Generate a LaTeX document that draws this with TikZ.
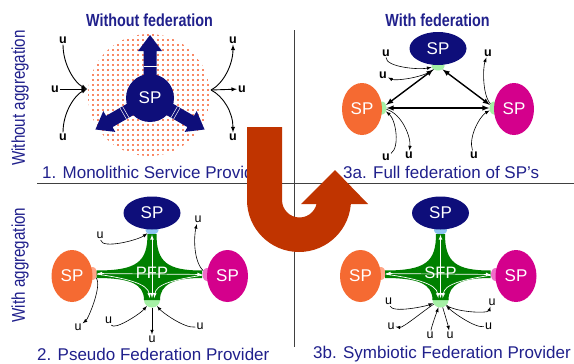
\documentclass[tikz,border=0pt]{standalone}
\usepackage{fontspec}
\setmainfont{Liberation Sans}
\newfontfamily\etroite[FakeStretch=0.82]{Liberation Sans}
\usetikzlibrary{shapes.geometric, calc}

\definecolor{marine}{RGB}{14,14,122}
\definecolor{bleutexte}{RGB}{32,32,140}
\definecolor{orangesp}{RGB}{245,106,50}
\definecolor{magentasp}{RGB}{212,0,140}
\definecolor{vertetoile}{RGB}{0,128,0}
\definecolor{vertclair}{RGB}{165,240,165}
\definecolor{bleuclair}{RGB}{140,195,240}
\definecolor{saumon}{RGB}{255,165,135}
\definecolor{rose}{RGB}{240,110,200}
\definecolor{rouille}{RGB}{192,52,0}
\definecolor{pointille}{RGB}{250,135,100}

\begin{document}
\begin{tikzpicture}[x=1pt, y=-1pt]
	\tikzset{sp/.style={ellipse, inner sep=0pt, text=white, font=\fontsize{17}{17}\selectfont},
		sp haut/.style={sp, fill=marine, minimum width=57pt, minimum height=33pt},
		sp gauche/.style={sp, fill=orangesp, minimum width=41pt, minimum height=52pt},
		sp droite/.style={sp, fill=magentasp, minimum width=41pt, minimum height=52pt},
		patin h/.style={ellipse, inner sep=0pt, minimum width=13pt, minimum height=9pt},
		patin v/.style={ellipse, inner sep=0pt, minimum width=9pt, minimum height=13pt},
		patin b/.style={ellipse, inner sep=0pt, minimum width=16pt, minimum height=15pt},
		util/.style={inner sep=1pt, font=\fontsize{12.5}{12.5}\selectfont},
		util gras/.style={inner sep=1pt, font=\fontsize{12.5}{12.5}\selectfont\bfseries},
		fleche/.style={>=latex, ->, line width=0.6pt},
		fleche double/.style={>=latex, <->, line width=1.4pt},
		fleche blanche/.style={>=latex, white, line width=0.7pt},
		titre/.style={text=bleutexte, font=\etroite\bfseries\fontsize{17.5}{18}\selectfont},
		cote/.style={text=bleutexte, rotate=90, font=\etroite\fontsize{18.5}{19}\selectfont},
		legende/.style={text=bleutexte, anchor=west, inner sep=0pt, font=\fontsize{17}{18}\selectfont},
		trait/.style={draw=black!75, line width=0.8pt},
		etoile/.pic={
			% patins, sous l'etoile et les SP
			\node[patin h, fill=bleuclair] (-ph) at (0,-44) {};
			\node[patin v, fill=saumon] (-pg) at (-59.5,-0.5) {};
			\node[patin v, fill=rose] (-pd) at (55,0.5) {};
			\node[patin b, fill=vertclair] (-pb) at (0,26) {};
			\fill[vertetoile] (-4.5,-40) .. controls (-4.5,-12) and (-15,-3.5) .. (-55.5,-3.5) -- (-55.5,4)
				.. controls (-22,4) and (-8,10) .. (-8,26) -- (8,26)
				.. controls (8,10) and (22,4) .. (50,4) -- (50,-3.5)
				.. controls (15,-3.5) and (4.5,-12) .. (4.5,-40) -- cycle;
			\node[sp haut] (-haut) at (0,-61) {SP};
			\node[sp gauche] (-gauche) at (-80,2) {SP};
			\node[sp droite] (-droite) at (75.5,2) {SP};
			% fleches dans l'etoile
			\draw[fleche blanche, <->, shorten <=2pt] (-pb.center) -- (-ph);
			\draw[fleche blanche, <->] (-pg) -- (-pd);
			\draw[fleche blanche, ->, shorten >=2pt] (-pg) .. controls +(35,5) and +(-2,-16) .. ([xshift=-2pt]-pb.center);
			\draw[fleche blanche, ->, shorten >=2pt] (-pd) .. controls +(-32,5) and +(2,-16) .. ([xshift=2pt]-pb.center);
			\node[text=white, font=\fontsize{16.5}{16.5}\selectfont] (-nom) at (0,-1.5) {#1};
		}}

	\useasboundingbox[fill=white] (0,0) rectangle (574,364);

	\draw[trait] (37,183) -- (574,183);
	\draw[trait] (294,30) -- (294,347);

	\node[titre] (titre1) at (149.5,20) {Without federation};
	\node[titre] (titre2) at (437.5,20) {With federation};
	\node[cote] (cote1) at (20,98) {Without aggregation};
	\node[cote] (cote2) at (20,265) {With aggregation};

	% 1. un seul SP
	\begin{scope}
		\clip (149,95) circle (61);
		\foreach \i in {0,...,25}
			\foreach \j in {0,...,24}
				\fill[pointille] (87+5*\i, 34+5*\j) rectangle ++(2,2);
	\end{scope}
	\foreach \a in {90,210,330}
		\fill[marine, shift={(150,98)}, rotate=\a] (0,-6.5) -- (47,-6.5) -- (47,-12) -- (63,0) -- (47,12) -- (47,6.5) -- (0,6.5) -- cycle;
	\draw[white, line width=0.5pt, shift={(150,98)}, rotate=90] (32,-6.5) -- (32,6.5);
	\foreach \a in {210,330}
		\draw[white, line width=0.5pt, shift={(150,98)}, rotate=\a] (28,-6.5) -- (28,6.5) (31,-6.5) -- (31,6.5);
	\node[circle, fill=marine, minimum size=48pt, inner sep=0pt, text=white, font=\fontsize{17}{17}\selectfont] (sp1) at (150,98) {SP};

	\node[util gras] (u11) at ( 63, 40) {u};
	\node[util gras] (u12) at ( 55, 89) {u};
	\node[util gras] (u13) at ( 63,137) {u};
	\node[util gras] (u14) at (233, 40) {u};
	\node[util gras] (u15) at (242, 89) {u};
	\node[util gras] (u16) at (233,137) {u};
	\coordinate (entree) at (87,89);
	\coordinate (sortie) at (211,90);

	\draw[fleche, line width=0.9pt] (u11) .. controls +(0,25) and +(-12,-6) .. (entree);
	\draw[fleche, line width=0.9pt] (u12) -- (entree);
	\draw[fleche, line width=0.9pt] (u13) .. controls +(0,-25) and +(-12,6) .. (entree);
	\draw[fleche, line width=0.9pt] (sortie) .. controls +(12,-6) and +(0,25) .. (u14);
	\draw[fleche, line width=0.9pt] (sortie) -- (u15);
	\draw[fleche, line width=0.9pt] (sortie) .. controls +(12,6) and +(0,-25) .. (u16);

	% 3a. federation complete
	\node[patin h, fill=vertclair] (pa1) at (438,66) {};
	\node[patin v, fill=vertclair] (pa2) at (382,108) {};
	\node[patin v, fill=vertclair] (pa3) at (494,108) {};
	\node[sp haut] (sp31) at (438,48.5) {SP};
	\node[sp gauche, minimum width=40pt] (sp32) at (362,109) {SP};
	\node[sp droite, minimum width=40pt] (sp33) at (514,109) {SP};

	\draw[fleche double] (pa1) -- (pa2);
	\draw[fleche double] (pa1) -- (pa3);
	\draw[fleche double] (pa2) -- (pa3);

	\node[util gras] (u31) at (386, 53) {u};
	\node[util gras] (u32) at (383, 75) {u};
	\node[util gras] (u33) at (488, 53) {u};
	\node[util gras] (u34) at (386,157) {u};
	\node[util gras] (u35) at (409,155) {u};
	\node[util gras] (u36) at (474,155) {u};

	\draw[fleche] (u31) .. controls +(0,14) and +(-20,4) .. (pa1);
	\draw[fleche] (pa1) .. controls +(-15,12) and +(12,6) .. (u32);
	\draw[fleche] (pa3) .. controls +(-12,-14) and +(-5,14) .. (u33);
	\draw[fleche] (u34) .. controls +(14,-10) and +(14,12) .. (pa2);
	\draw[fleche] (pa2) .. controls +(20,6) and +(2,-18) .. (u35);
	\draw[fleche] (u36) .. controls +(-6,-18) and +(-14,8) .. (pa3);

	% 2. et 3b. etoiles PFP et SFP
	\pic (p) at (152,274) {etoile=PFP};
	\pic (s) at (440.5,274) {etoile=SFP};

	\node[util] (u21) at (100,235.5) {u};
	\node[util] (u22) at (198,219.5) {u};
	\node[util] (u23) at ( 78,327) {u};
	\node[util] (u24) at (108.5,320.5) {u};
	\node[util] (u25) at (152,339) {u};
	\node[util] (u26) at (200,326.5) {u};

	\draw[fleche] (u21) .. controls +(2,14) and +(-14,10) .. (p-ph);
	\draw[fleche] (p-pd) .. controls +(-14,-14) and +(-4,16) .. (u22);
	\draw[fleche] (p-pg) .. controls +(10,12) and +(10,-8) .. (u23);
	\draw[fleche] (u24) .. controls +(6,10) and +(-12,14) .. (p-pb);
	\draw[fleche] (p-pb) -- (u25);
	\draw[fleche] (u26) .. controls +(-16,2) and +(10,12) .. (p-pb);

	\node[util] (u41) at (388.5,301.5) {u};
	\node[util] (u42) at (391,326) {u};
	\node[util] (u43) at (430,335) {u};
	\node[util] (u44) at (450,335) {u};
	\node[util] (u45) at (488.5,326) {u};
	\node[util] (u46) at (492,302) {u};

	\draw[fleche] (u41) .. controls +(4,12) and +(-14,6) .. (s-pb);
	\draw[fleche] (s-pb) .. controls +(-16,10) and +(12,2) .. (u42);
	\draw[fleche] (u43) .. controls +(2,-10) and +(-3,10) .. (s-pb);
	\draw[fleche] (s-pb) .. controls +(3,10) and +(-2,-10) .. (u44);
	\draw[fleche] (u45) .. controls +(-14,2) and +(12,12) .. (s-pb);
	\draw[fleche] (s-pb) .. controls +(14,12) and +(-4,12) .. (u46);

	\node[legende] (leg1) at ( 42,172) {1. Monolithic Service Provider};
	\node[legende] (leg2) at (343,172) {3a. Full federation of SP’s};
	\node[legende] (leg3) at ( 37,354) {2. Pseudo Federation Provider};
	\node[legende] (leg4) at (313,354) {3b. Symbiotic Federation Provider};

	% le grand U
	\fill[rouille] (247,127) -- (282,127) -- (282,200) arc[start angle=180, end angle=0, radius=17.5]
		-- (317,204) -- (301,204) -- (335,170) -- (368,204) -- (351,204) -- (351,200)
		arc[start angle=0, end angle=180, radius=52] -- cycle;

\end{tikzpicture}
\end{document}
